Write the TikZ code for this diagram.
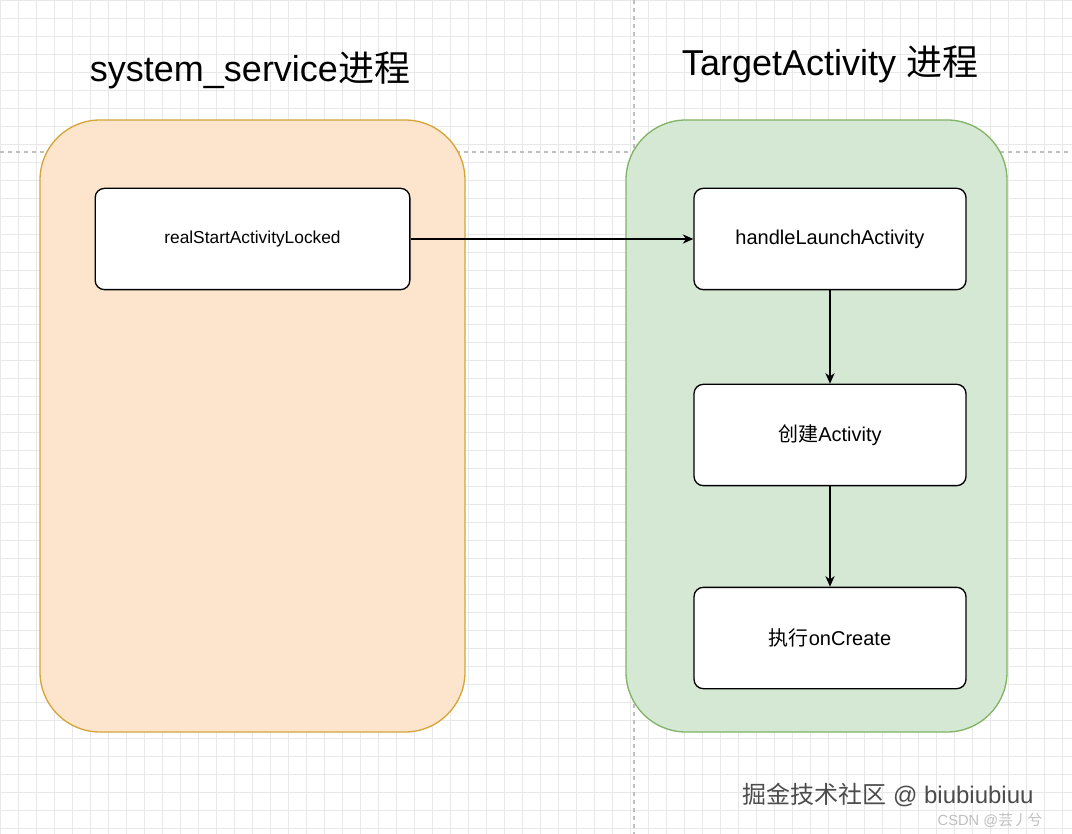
\documentclass[tikz,border=0pt]{standalone}
\usepackage{fontspec}
\setmainfont{Liberation Sans}
\newfontfamily\cjk{Noto Sans CJK SC}
\usetikzlibrary{positioning,arrows.meta}
\definecolor{orangefill}{HTML}{FCE5CC}
\definecolor{orangeline}{HTML}{D6A53A}
\definecolor{greenfill}{HTML}{D5E8D4}
\definecolor{greenline}{HTML}{82B366}
\tikzset{
  step box/.style={draw, fill=white, rounded corners=7pt, line width=1pt, minimum width=204pt, minimum height=76pt},
  lane/.style={rounded corners=45pt, line width=1pt, minimum width=#1, minimum height=459pt},
  title/.style={font=\fontsize{27}{30}\selectfont}
}
\begin{document}
\begin{tikzpicture}[x=0.75pt, y=-0.75pt, thick, >={Stealth[length=8pt,width=7pt]}]
    \useasboundingbox (0,0) rectangle (1072,834);
    % grid background
    \fill[white] (0,0) rectangle (1072,834);
    \draw[gray!18, line width=0.4pt, step=13.5pt] (0,0) grid (1072,834);
    \draw[gray!50, dashed, line width=0.8pt] (634,0) -- (634,834);
    \draw[gray!50, dashed, line width=0.8pt] (0,152) -- (1072,152);

    % process lanes
    \node[lane=318.75pt, draw=orangeline, fill=orangefill] (system) at (252.5,426) {};
    \node[lane=285.75pt, draw=greenline, fill=greenfill] (target) at (816.5,426) {};
    \node[title] (systitle) at (250,70) {system\_service{\cjk 进程}};
    \node[title] (tartitle) at (830,64) {TargetActivity {\cjk 进程}};

    % steps
    \node[step box, minimum width=236pt, font=\fontsize{13}{15}\selectfont] (realstart) at (252.5,239) {realStartActivityLocked};
    \node[step box, font=\fontsize{15}{17}\selectfont] (handle) at (830,239) {handleLaunchActivity};
    \node[step box, font=\fontsize{15}{17}\selectfont] (create) at (830,435) {{\cjk 创建}Activity};
    \node[step box, font=\fontsize{15}{17}\selectfont] (oncreate) at (830,638) {{\cjk 执行}onCreate};

    \draw[->] (realstart) -- (handle);
    \draw[->] (handle) -- (create);
    \draw[->] (create) -- (oncreate);

    % watermark
    \node[gray!60!black, font=\fontsize{18}{20}\selectfont, inner sep=1pt] (juejin) at (888,795) {{\cjk 掘金技术社区} @ biubiubiuu};
    \node[gray!50, font=\fontsize{11}{13}\selectfont, inner sep=1pt] (csdn) at (990,820) {CSDN @{\cjk 芸丿兮}};
\end{tikzpicture}
\end{document}
